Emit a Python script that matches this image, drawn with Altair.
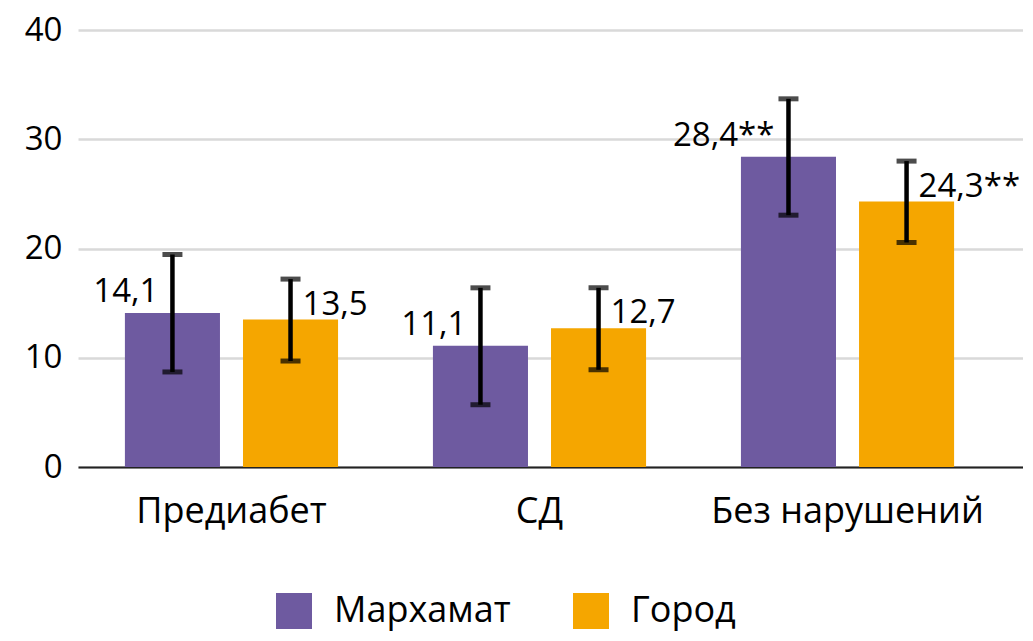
import altair as alt
import pandas as pd

categories = ["Предиабет", "СД", "Без нарушений"]
groups = ["Мархамат", "Город"]
marhamat = [14.1, 11.1, 28.4]
gorod = [13.5, 12.7, 24.3]
marhamat_low = [8.7, 5.7, 23.05]
marhamat_high = [19.45, 16.4, 33.7]
gorod_low = [9.7, 8.9, 20.55]
gorod_high = [17.2, 16.4, 28.0]
marhamat_labels = ["14,1", "11,1", "28,4**"]
gorod_labels = ["13,5", "12,7", "24,3**"]
colors = ["#6e5aa0", "#f5a600"]

rows = []
for i, c in enumerate(categories):
    rows.append(dict(cat=c, grp=groups[0], val=marhamat[i], lo=marhamat_low[i],
                     hi=marhamat_high[i], lab=marhamat_labels[i]))
    rows.append(dict(cat=c, grp=groups[1], val=gorod[i], lo=gorod_low[i],
                     hi=gorod_high[i], lab=gorod_labels[i]))
df = pd.DataFrame(rows)

FONT = "Open Sans"
FS = 33
FS_TXT = 36

x = alt.X("cat:N", sort=categories, title=None,
          scale=alt.Scale(paddingInner=0.308, paddingOuter=0.188, align=0.405),
          axis=alt.Axis(labelAngle=0, ticks=False, domainColor="#222222", domainWidth=2,
                        labelFontSize=FS_TXT, labelFont=FONT, labelColor="black",
                        labelPadding=27, labelLimit=0, grid=False))
xo = alt.XOffset("grp:N", sort=groups,
                 scale=alt.Scale(paddingInner=0.195, paddingOuter=0))
y = alt.Y("val:Q", title=None,
          scale=alt.Scale(domain=[0, 40]),
          axis=alt.Axis(values=[0, 10, 20, 30, 40], ticks=False, domain=False,
                        gridColor="#d9d9d9", gridWidth=2.5,
                        labelFontSize=FS, labelFont=FONT, labelColor="black",
                        labelPadding=16))

base = alt.Chart(df)

bars = base.mark_bar().encode(
    x=x, xOffset=xo, y=y,
    color=alt.Color("grp:N", sort=groups, scale=alt.Scale(domain=groups, range=colors),
                    legend=alt.Legend(title=None, orient="none", direction="horizontal",
                                      legendX=198, legendY=563, symbolType="square",
                                      symbolSize=1296, symbolStrokeWidth=0,
                                      labelFontSize=FS_TXT, labelFont=FONT, labelColor="black",
                                      labelOffset=22, columnPadding=62, padding=0,
                                      labelLimit=0)),
)

rules = base.mark_rule(color="black", strokeWidth=4.5).encode(
    x=x, xOffset=xo, y=alt.Y("lo:Q"), y2="hi:Q")
cap_lo = base.mark_tick(color="black", size=20, thickness=5).encode(
    x=x, xOffset=xo, y=alt.Y("lo:Q"))
cap_hi = base.mark_tick(color="black", size=20, thickness=5).encode(
    x=x, xOffset=xo, y=alt.Y("hi:Q"))

lab_m = base.transform_filter(alt.datum.grp == groups[0]).mark_text(
    align="right", baseline="alphabetic", dx=-14, dy=-11, font=FONT, fontSize=FS, color="black"
).encode(x=x, xOffset=xo, y=alt.Y("val:Q"), text="lab:N")
lab_g = base.transform_filter(alt.datum.grp == groups[1]).mark_text(
    align="left", baseline="alphabetic", dx=12, dy=-5, font=FONT, fontSize=FS, color="black"
).encode(x=x, xOffset=xo, y=alt.Y("val:Q"), text="lab:N")

chart = alt.layer(bars, rules, cap_lo, cap_hi, lab_m, lab_g).properties(
    width=945, height=437,
    autosize=alt.AutoSizeParams(type="none"),
    padding={"left": 70, "top": 22, "right": 0, "bottom": 170},
).configure(background="white").configure_view(stroke=None)

chart.save("out.html", embed_options={"renderer": "svg", "actions": False})
